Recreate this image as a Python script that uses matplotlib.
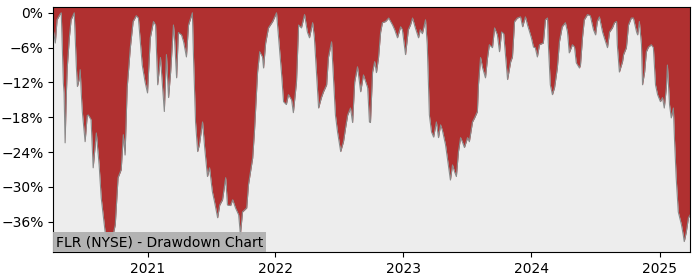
import pandas as pd
import matplotlib
matplotlib.use('Agg')
import matplotlib.pyplot as plt
import matplotlib.dates as mdates
from matplotlib.ticker import PercentFormatter, MultipleLocator

ticker = 'FLR (NYSE)'

# drawdown points (date, % below previous high)
dates = [
    '2020-04-07', '2020-04-13', '2020-04-18', '2020-04-27', '2020-04-30', '2020-05-06', '2020-05-08',
    '2020-05-11', '2020-05-14', '2020-05-17', '2020-05-23', '2020-05-28', '2020-06-06', '2020-06-12',
    '2020-06-15', '2020-06-20', '2020-06-23', '2020-06-26', '2020-06-29', '2020-07-07', '2020-07-13',
    '2020-07-16', '2020-07-24', '2020-07-30', '2020-08-08', '2020-08-16', '2020-08-22', '2020-09-02',
    '2020-09-11', '2020-09-22', '2020-10-01', '2020-10-09', '2020-10-18', '2020-10-24', '2020-10-29',
    '2020-11-04', '2020-11-13', '2020-11-21', '2020-11-30', '2020-12-06', '2020-12-17', '2020-12-25',
    '2021-01-01', '2021-01-09', '2021-01-18', '2021-01-24', '2021-01-30', '2021-02-07', '2021-02-13',
    '2021-02-18', '2021-02-24', '2021-03-02', '2021-03-08', '2021-03-16', '2021-03-19', '2021-03-25',
    '2021-03-30', '2021-04-08', '2021-04-14', '2021-04-22', '2021-04-28', '2021-05-09', '2021-05-12',
    '2021-05-18', '2021-05-24', '2021-05-29', '2021-06-07', '2021-06-13', '2021-06-21', '2021-06-27',
    '2021-07-05', '2021-07-11', '2021-07-20', '2021-07-26', '2021-08-03', '2021-08-12', '2021-08-17',
    '2021-08-26', '2021-09-01', '2021-09-09', '2021-09-18', '2021-09-23', '2021-09-29', '2021-10-11',
    '2021-10-16', '2021-10-28', '2021-11-02', '2021-11-11', '2021-11-17', '2021-11-25', '2021-11-28',
    '2021-12-04', '2021-12-12', '2021-12-24',
    '2022-01-04', '2022-01-10', '2022-01-18', '2022-01-24', '2022-02-01', '2022-02-07', '2022-02-16',
    '2022-02-21', '2022-03-02', '2022-03-08', '2022-03-16', '2022-03-25', '2022-04-02', '2022-04-08',
    '2022-04-17', '2022-04-22', '2022-04-28', '2022-05-04', '2022-05-12', '2022-05-18', '2022-05-27',
    '2022-06-01', '2022-06-10', '2022-06-16', '2022-06-21', '2022-06-27', '2022-07-06', '2022-07-14',
    '2022-07-20', '2022-07-26', '2022-08-03', '2022-08-09', '2022-08-15', '2022-08-23', '2022-09-01',
    '2022-09-09', '2022-09-21', '2022-09-26', '2022-09-29', '2022-10-05', '2022-10-11', '2022-10-16',
    '2022-10-22', '2022-10-28', '2022-11-02', '2022-11-11', '2022-11-20', '2022-12-01', '2022-12-07',
    '2022-12-15', '2022-12-24', '2022-12-29',
    '2023-01-07', '2023-01-15', '2023-01-21', '2023-01-27', '2023-02-04', '2023-02-13', '2023-02-18',
    '2023-02-24', '2023-03-05', '2023-03-10', '2023-03-16', '2023-03-22', '2023-03-28', '2023-04-05',
    '2023-04-11', '2023-04-17', '2023-04-22', '2023-05-01', '2023-05-09', '2023-05-15', '2023-05-21',
    '2023-05-27', '2023-06-01', '2023-06-07', '2023-06-13', '2023-06-18', '2023-06-24', '2023-07-03',
    '2023-07-08', '2023-07-17', '2023-07-23', '2023-07-31', '2023-08-03', '2023-08-09', '2023-08-15',
    '2023-08-23', '2023-08-29', '2023-09-03', '2023-09-12', '2023-09-18', '2023-09-26', '2023-10-02',
    '2023-10-08', '2023-10-14', '2023-10-19', '2023-10-25', '2023-11-03', '2023-11-08', '2023-11-14',
    '2023-11-22', '2023-12-01', '2023-12-07', '2023-12-15', '2023-12-21',
    '2024-01-01', '2024-01-07', '2024-01-12', '2024-01-18', '2024-01-24', '2024-02-04', '2024-02-10',
    '2024-02-16', '2024-02-18', '2024-02-24', '2024-03-01', '2024-03-07', '2024-03-15', '2024-03-21',
    '2024-03-29', '2024-04-07', '2024-04-13', '2024-04-18', '2024-04-27', '2024-05-03', '2024-05-08',
    '2024-05-17', '2024-05-20', '2024-05-26', '2024-05-31', '2024-06-09', '2024-06-17', '2024-06-26',
    '2024-07-02', '2024-07-07', '2024-07-13', '2024-07-22', '2024-07-27', '2024-08-05', '2024-08-11',
    '2024-08-19', '2024-08-25', '2024-08-31', '2024-09-02', '2024-09-08', '2024-09-17', '2024-09-20',
    '2024-09-28', '2024-10-04', '2024-10-12', '2024-10-18', '2024-10-27', '2024-10-30', '2024-11-04',
    '2024-11-10', '2024-11-13', '2024-11-19', '2024-11-24', '2024-11-30', '2024-12-08', '2024-12-14',
    '2024-12-20', '2024-12-26',
    '2025-01-03', '2025-01-09', '2025-01-14', '2025-01-20', '2025-01-23', '2025-01-29', '2025-02-03',
    '2025-02-09', '2025-02-12', '2025-02-17', '2025-02-23', '2025-03-04', '2025-03-09', '2025-03-12',
    '2025-03-18', '2025-03-24', '2025-03-29',
]
drawdown = [
    -2.8, -5.2, -1.2, -0.2, 0.0, -12.1, -13.8,
    -22.4, -15.0, -9.5, -4.3, -1.2, 0.0, -9.3,
    -12.7, -11.5, -9.8, -13.8, -17.0, -22.2, -17.7,
    -17.6, -18.4, -26.7, -20.7, -26.2, -31.9, -37.7,
    -38.7, -39.1, -36.5, -28.4, -27.0, -21.0, -24.5,
    -12.9, -6.0, -1.5, -0.5, -0.9, -9.0, -11.9,
    -13.8, -4.3, -1.5, -2.1, -12.4, -7.7, -12.9,
    -17.0, -7.2, -14.6, -10.2, -2.1, -4.3, -11.2,
    -3.4, -3.8, -5.0, -7.6, -2.1, 0.0, -7.2,
    -18.8, -23.9, -22.7, -18.8, -23.2, -28.2, -26.7,
    -30.8, -32.5, -35.3, -33.1, -32.2, -28.4, -33.1,
    -33.2, -32.2, -33.6, -34.8, -38.2, -34.3, -33.6,
    -29.6, -25.0, -20.5, -10.2, -6.7, -7.6, -9.5,
    -5.2, -2.6, -1.5,
    0.0, -4.3, -10.2, -15.3, -15.8, -14.1, -15.0,
    -17.2, -11.9, -2.1, -2.6, -0.3, -3.3, -4.3,
    -1.7, -4.3, -10.2, -16.4, -14.6, -13.6, -12.4,
    -7.7, -5.0, -11.9, -17.6, -20.5, -23.9, -22.2,
    -19.8, -17.6, -16.4, -18.9, -11.9, -9.3, -13.6,
    -10.7, -12.9, -18.8, -18.9, -10.2, -8.4, -10.3,
    -7.7, -3.3, -1.7, -1.5, -0.9, -2.1, -2.9,
    -4.3, -2.4, -2.9,
    -7.2, -2.9, -2.1, -0.9, -2.6, -4.3, -2.9,
    -3.6, -1.2, -5.5, -17.6, -20.5, -21.4, -18.8,
    -21.5, -19.3, -20.2, -22.7, -26.2, -28.8, -26.2,
    -27.4, -28.2, -23.9, -21.5, -22.2, -23.2, -21.5,
    -22.2, -18.8, -18.1, -17.0, -12.4, -7.7, -9.5,
    -11.2, -7.7, -5.5, -6.0, -2.6, -3.8, -6.7,
    -3.3, -3.6, -7.2, -11.5, -8.4, -7.6, -1.5,
    -0.9, -0.7, -2.4, -0.7, -2.1,
    -4.3, -5.9, -6.0, -7.6, -5.5, -5.2, -1.2,
    -0.9, -5.0, -12.4, -14.1, -12.9, -9.5, -5.0,
    -2.4, -1.7, -3.3, -6.9, -5.5, -5.9, -8.6,
    -9.5, -9.0, -4.1, -1.2, -0.3, -0.5, -2.9,
    -3.8, -1.5, -0.7, -3.3, -4.3, -6.0, -3.3,
    -2.6, -1.7, -1.5, -5.5, -10.2, -8.4, -7.2,
    -6.0, -2.1, -0.9, -0.9, -3.3, -3.8, -1.5,
    -5.5, -12.4, -10.2, -6.7, -5.9, -5.5, -6.0,
    -12.4, -14.1,
    -15.3, -14.6, -16.4, -12.9, -9.0, -15.8, -18.1,
    -16.4, -21.5, -28.4, -34.3, -36.5, -38.2, -39.4,
    -37.7, -35.3, -34.8,
]

dd = pd.Series(drawdown, index=pd.to_datetime(dates))

fig, ax = plt.subplots(figsize=(7, 2.8), dpi=100)
fig.subplots_adjust(left=0.076, right=0.986, top=0.975, bottom=0.1)

ymin, ymax = -41.2, 1.0
ax.set_facecolor('#ededed')
ax.fill_between(dd.index, dd.values, ymax, color='#b03030', linewidth=0)
ax.plot(dd.index, dd.values, color='#8a8a8a', linewidth=0.8)

ax.set_xlim(dd.index[0], dd.index[-1])
ax.set_ylim(ymin, ymax)
ax.yaxis.set_major_locator(MultipleLocator(6))
ax.yaxis.set_major_formatter(PercentFormatter(decimals=0))
ax.xaxis.set_major_locator(mdates.YearLocator())
ax.xaxis.set_major_formatter(mdates.DateFormatter('%Y'))

ax.text(0.004, 0.012, ticker + ' - Drawdown Chart', transform=ax.transAxes,
        fontsize=10, ha='left', va='bottom',
        bbox=dict(facecolor='#b0b0b0', edgecolor='none', alpha=0.95, pad=2))

plt.savefig('out.png')
